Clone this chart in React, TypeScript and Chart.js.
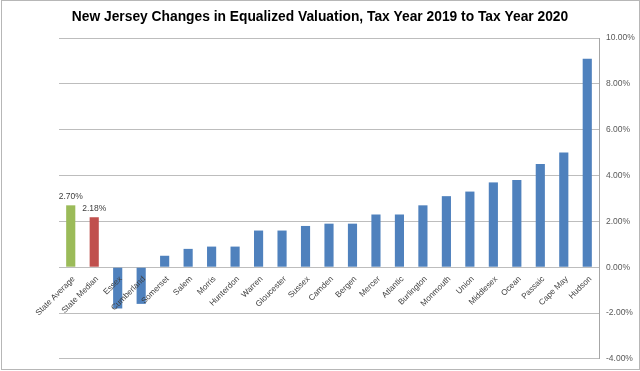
import React, { useEffect, useRef } from "react";
import { Chart, registerables } from "chart.js";

Chart.register(...registerables);

const categories: string[] = [
  "State Average", "State Median", "Essex", "Cumberland", "Somerset", "Salem", "Morris",
  "Hunterdon", "Warren", "Gloucester", "Sussex", "Camden", "Bergen", "Mercer", "Atlantic",
  "Burlington", "Monmouth", "Union", "Middlesex", "Ocean", "Passaic", "Cape May", "Hudson",
];
const changes: number[] = [
  2.7, 2.18, -1.8, -1.6, 0.5, 0.8, 0.9, 0.9, 1.6, 1.6, 1.8, 1.9, 1.9, 2.3, 2.3, 2.7, 3.1,
  3.3, 3.7, 3.8, 4.5, 5.0, 9.1,
];
const labeledBars: number[] = [0, 1];
const yTicks: number[] = [-4, -2, 0, 2, 4, 6, 8, 10];
const title = "New Jersey Changes in Equalized Valuation, Tax Year 2019 to Tax Year 2020";

const BLUE = "#4F81BD";
const GREEN = "#9BBB59";
const RED = "#C0504D";

const fmt = (v: number) => v.toFixed(2) + "%";

export default function App() {
  const ref = useRef<HTMLCanvasElement | null>(null);

  useEffect(() => {
    document.body.style.margin = "0";
    const canvas = ref.current;
    if (!canvas) return;

    const valueLabels = {
      id: "valueLabels",
      afterDatasetsDraw(chart: any) {
        const ctx = chart.ctx;
        const meta = chart.getDatasetMeta(0);
        ctx.save();
        ctx.font = "8.5px 'Liberation Sans', Arial, sans-serif";
        ctx.fillStyle = "#404040";
        ctx.textAlign = "center";
        ctx.textBaseline = "bottom";
        labeledBars.forEach((i) => {
          const el = meta.data[i];
          ctx.fillText(fmt(changes[i]), el.x, el.y - 4);
        });
        ctx.restore();
      },
    };

    const frame = {
      id: "frame",
      beforeDraw(chart: any) {
        const ctx = chart.ctx;
        ctx.save();
        ctx.font = "bold 13.8px 'Liberation Sans', Arial, sans-serif";
        ctx.fillStyle = "#000000";
        ctx.textAlign = "center";
        ctx.textBaseline = "middle";
        ctx.fillText(title, 320, 17);
        ctx.restore();
      },
      afterDraw(chart: any) {
        const ctx = chart.ctx;
        ctx.save();
        ctx.strokeStyle = "#b7b7b7";
        ctx.lineWidth = 1;
        ctx.strokeRect(1.5, 0.5, 638, 369);
        ctx.restore();
      },
    };

    const chart = new Chart(canvas, {
      type: "bar",
      data: {
        labels: categories,
        datasets: [
          {
            data: changes,
            backgroundColor: changes.map((_, i) => (i === 0 ? GREEN : i === 1 ? RED : BLUE)),
            categoryPercentage: 1,
            barPercentage: 0.39,
          },
        ],
      },
      options: {
        animation: false,
        responsive: false,
        layout: { padding: { left: 59, right: 0, top: 38, bottom: 11 } },
        plugins: {
          legend: { display: false },
          tooltip: { enabled: false },
          title: { display: false },
        },
        scales: {
          x: {
            position: { y: 0 } as any,
            grid: { display: false, drawTicks: false },
            border: { display: false },
            ticks: {
              z: 1,
              autoSkip: false,
              minRotation: 45,
              maxRotation: 45,
              padding: 7,
              labelOffset: 3,
              color: "#404040",
              font: { family: "'Liberation Sans', Arial, sans-serif", size: 8.2 },
            },
          } as any,
          y: {
            position: "right",
            min: -4,
            max: 10,
            afterBuildTicks(scale: any) {
              scale.ticks = yTicks.map((v) => ({ value: v }));
            },
            afterFit(scale: any) {
              scale.width = 41;
            },
            grid: { color: "#bdbdbd", drawTicks: false },
            border: { display: true, color: "#a6a6a6" },
            ticks: {
              padding: 7,
              color: "#595959",
              font: { family: "'Liberation Sans', Arial, sans-serif", size: 8.5 },
              callback: (v: any) => fmt(Number(v)),
            },
          },
        },
      },
      plugins: [valueLabels, frame],
    });

    return () => chart.destroy();
  }, []);

  return <canvas ref={ref} width={640} height={371} style={{ display: "block" }} />;
}
